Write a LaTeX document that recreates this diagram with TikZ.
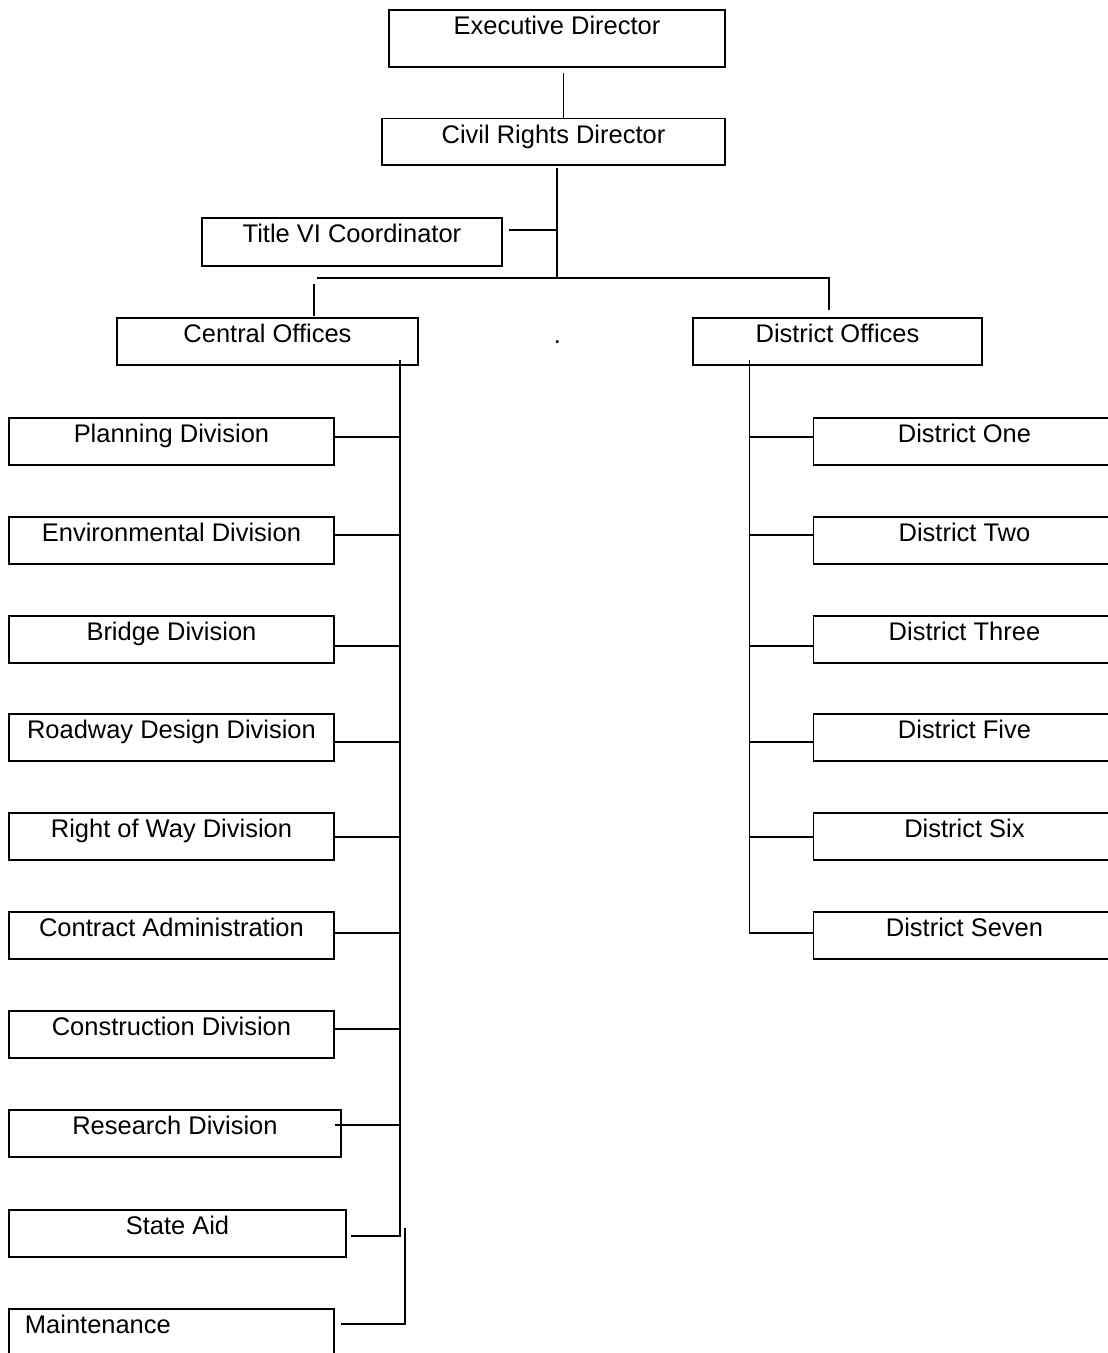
\documentclass[tikz,border=0pt]{standalone}
\usepackage{fontspec}
\setmainfont{Liberation Sans}
\usetikzlibrary{calc}

\begin{document}
\begin{tikzpicture}[x=0.02cm, y=-0.02cm,
        unit/.style={draw, line width=1.1pt, rectangle, inner sep=0pt, anchor=north west,
            text height=0.5cm, text depth=0.44cm, font=\fontsize{14.5}{17}\selectfont},
        link/.style={line width=0.9pt}]
        \useasboundingbox (0, 0) rectangle (1108, 1353);
        \clip (0, 0) rectangle (1108, 1353);
        % draw directors
        \node[unit, minimum width=336*0.02cm, text depth=0.64cm] (exec) at (388, 9) {Executive Director};
        \node[unit, minimum width=343*0.02cm] (civil) at (381, 117.5) {Civil Rights Director};
        \node[unit, minimum width=300*0.02cm, text depth=0.46cm] (title) at (201, 217) {Title VI Coordinator};
        % draw offices
        \node[unit, minimum width=301*0.02cm] (central) at (116, 317) {Central Offices};
        \node[unit, minimum width=289*0.02cm] (district) at (692, 317) {District Offices};
        \node[font=\fontsize{14.5}{17}\selectfont, inner sep=0pt] (dot) at (557.5, 342) {.};
        % draw links between directors
        \coordinate (down) at ($(exec.south)+(6.5, 5)$);
        \draw[link] (down) -- (down |- civil.north);
        \coordinate (hub) at (557, 278);
        \draw[link] ($(hub |- civil.south)+(0, 2)$) -- (hub);
        \coordinate (ttitle) at ($(title.north east)+(6, 13)$);
        \draw[link] (ttitle) -- (ttitle -| hub);
        % draw cross bar to offices
        \coordinate (cdrop) at ($(central.north west)+(198, -1)$);
        \coordinate (ddrop) at ($(district.north west)+(137, -7)$);
        \draw[link] ($(hub -| cdrop)+(3, 0)$) -| (ddrop);
        \draw[link] ($(hub -| cdrop)+(0, 6)$) -- (cdrop);
        % draw central divisions
        \coordinate (cspine) at ($(central.south east)+(-19, -6)$);
        \foreach \name/\label/\w/\top/\hook/\gap in {plan/Planning Division/325/417/20/0,
                env/Environmental Division/325/516/19/0, bridge/Bridge Division/325/615/31/0,
                road/Roadway Design Division/325/713/29/0, way/Right of Way Division/325/812/25/0,
                contract/Contract Administration/325/911/22/0, build/Construction Division/325/1010/19/0,
                research/Research Division/332/1109/16/-7, aid/State Aid/337/1209/27/4} {
            \node[unit, minimum width=\w*0.02cm] (\name) at (8, \top) {\label};
            \coordinate (t\name) at ($(\name.north east)+(\gap, \hook)$);
        }
        \foreach \name in {plan, env, bridge, road, way, contract, build, research} {
            \draw[link] (t\name) -- (t\name -| cspine);
        }
        \draw[link] (cspine) |- (taid);
        % draw maintenance
        \node[unit, text width=293*0.02cm, inner xsep=0.32cm, align=left, text depth=0.54cm] (maint) at (8, 1308) {Maintenance};
        \coordinate (tmaint) at ($(maint.north east)+(6, 16)$);
        \coordinate (mspine) at ($(cspine |- taid)+(5, -8)$);
        \draw[link] (mspine) |- (tmaint);
        % draw districts
        \coordinate (dspine) at ($(district.south west)+(57.5, -6)$);
        \foreach \name/\label/\top/\hook in {one/District One/417/20, two/District Two/516/19,
                three/District Three/615/31, five/District Five/713/29, six/District Six/812/25,
                seven/District Seven/911/22} {
            \node[unit, minimum width=302*0.02cm] (d\name) at (812.5, \top) {\label};
            \coordinate (t\name) at ($(d\name.north west)+(0, \hook)$);
        }
        \foreach \name in {one, two, three, five, six} {
            \draw[link] (t\name -| dspine) -- (t\name);
        }
        \draw[link] (dspine) |- (tseven);
    \end{tikzpicture}
\end{document}
